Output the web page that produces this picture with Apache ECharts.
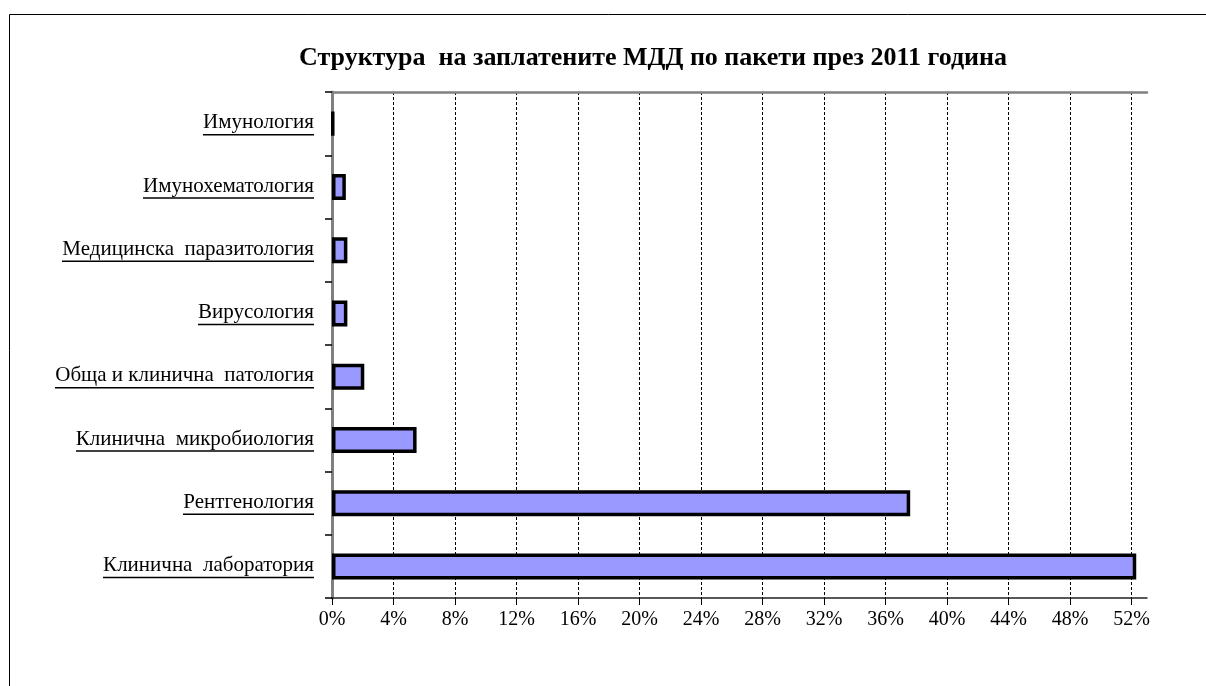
<!DOCTYPE html>
<html>
<head>
<meta charset="utf-8">
<script src="https://cdn.jsdelivr.net/npm/echarts@6/dist/echarts.min.js"></script>
<style>html,body{margin:0;padding:0;background:#fff;}#c{width:1206px;height:686px;}</style>
</head>
<body>
<div id="c"></div>
<script>
const titleText = 'Структура  на заплатените МДД по пакети през 2011 година';
const categories = ['Клинична  лаборатория', 'Рентгенология', 'Клинична  микробиология', 'Обща и клинична  патология', 'Вирусология', 'Медицинска  паразитология', 'Имунохематология', 'Имунология'];
const values = [52.3, 37.6, 5.5, 2.1, 1.0, 1.0, 0.9, 0.1];
const xTicks = [0, 4, 8, 12, 16, 20, 24, 28, 32, 36, 40, 44, 48, 52];

const serif = '"Liberation Serif", "Times New Roman", serif';
const catFontSize = 21;
const ctx = document.createElement('canvas').getContext('2d');
ctx.font = catFontSize + 'px ' + serif;
const rich = { t: { fontFamily: serif, fontSize: catFontSize, color: '#000', lineHeight: 22 } };
categories.forEach((c, i) => {
  rich['u' + i] = { width: Math.round(ctx.measureText(c).width), height: 1.5, lineHeight: 1.5, backgroundColor: '#000' };
});

const chart = echarts.init(document.getElementById('c'), null, { renderer: 'canvas' });
chart.setOption({
  animation: false,
  backgroundColor: '#fff',
  title: {
    text: titleText,
    left: 648,
    top: 40,
    textAlign: 'center',
    textStyle: { fontFamily: serif, fontSize: 26, fontWeight: 'bold', color: '#000' }
  },
  graphic: [{
    type: 'rect',
    shape: { x: 9.5, y: 14.5, width: 1400, height: 1000 },
    style: { fill: 'none', stroke: '#000', lineWidth: 1 },
    silent: true
  }],
  grid: { left: 332, right: 59, top: 92, bottom: 88, containLabel: false },
  xAxis: [{
    type: 'value', min: 0, max: 53, interval: 4,
    axisLine: { show: true, lineStyle: { color: '#222', width: 1.5 } },
    axisTick: { show: true, length: 7, customValues: xTicks, lineStyle: { color: '#000' } },
    axisLabel: { customValues: xTicks, formatter: v => v + '%', fontFamily: serif, fontSize: 20, color: '#000', margin: 12 },
    splitLine: { show: true, lineStyle: { color: '#000', type: [3, 2], width: 1 } }
  }, {
    type: 'value', position: 'top', min: 0, max: 53,
    axisLine: { show: true, lineStyle: { color: '#808080', width: 2.5 } },
    axisTick: { show: false }, axisLabel: { show: false }, splitLine: { show: false }
  }],
  yAxis: [{
    type: 'category', data: categories,
    axisLine: { show: true, lineStyle: { color: '#000', width: 1.5 } },
    axisTick: { show: true, length: 7, alignWithLabel: false, lineStyle: { color: '#000', width: 1.5 } },
    axisLabel: {
      margin: 18,
      formatter: (v, i) => '{t|' + v + '}\n{u' + i + '|}',
      rich: rich
    },
    splitLine: { show: false }
  }, {
    type: 'category', data: categories, position: 'right',
    axisLine: { show: true, lineStyle: { color: '#808080', width: 3 } },
    axisTick: { show: false }, axisLabel: { show: false }, splitLine: { show: false }
  }],
  series: [{
    type: 'bar',
    data: values,
    barWidth: 26,
    itemStyle: { color: '#9999FF', borderColor: '#000', borderWidth: 3.5 }
  }]
});
</script>
</body>
</html>
